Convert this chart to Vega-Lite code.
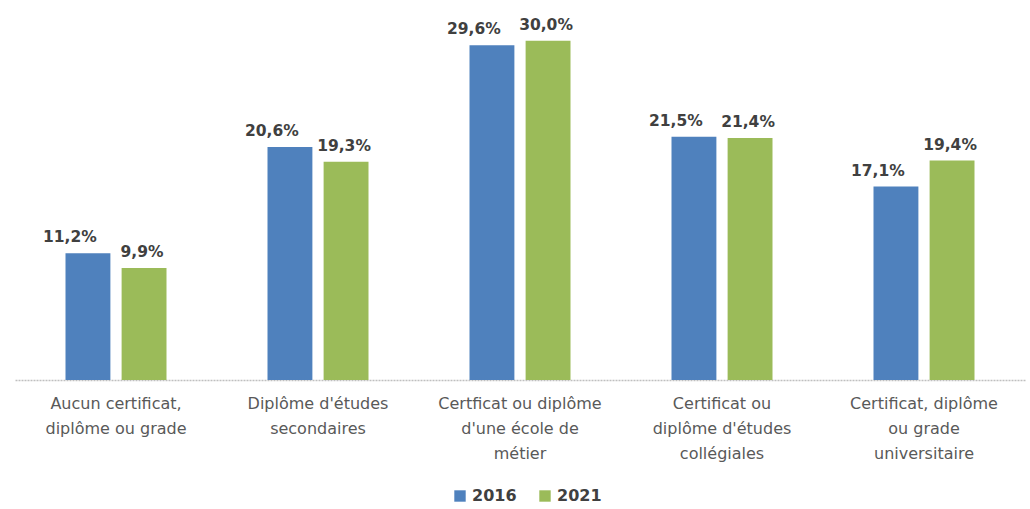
{
  "$schema": "https://vega.github.io/schema/vega-lite/v6.json",
  "width": 1010,
  "height": 380,
  "autosize": {"type": "none"},
  "padding": {"left": 15, "top": 0, "right": 5, "bottom": 129},
  "background": "white",
  "config": {
    "view": {"stroke": null},
    "font": "DejaVu Sans"
  },
  "data": {
    "values": [
      {"cat": "Aucun certificat,|diplôme ou grade", "annee": "2016", "val": 11.2, "lbl": "11,2%"},
      {"cat": "Aucun certificat,|diplôme ou grade", "annee": "2021", "val": 9.9, "lbl": "9,9%"},
      {"cat": "Diplôme d'études|secondaires", "annee": "2016", "val": 20.6, "lbl": "20,6%"},
      {"cat": "Diplôme d'études|secondaires", "annee": "2021", "val": 19.3, "lbl": "19,3%"},
      {"cat": "Certficat ou diplôme|d'une école de|métier", "annee": "2016", "val": 29.6, "lbl": "29,6%"},
      {"cat": "Certficat ou diplôme|d'une école de|métier", "annee": "2021", "val": 30.0, "lbl": "30,0%"},
      {"cat": "Certificat ou|diplôme d'études|collégiales", "annee": "2016", "val": 21.5, "lbl": "21,5%"},
      {"cat": "Certificat ou|diplôme d'études|collégiales", "annee": "2021", "val": 21.4, "lbl": "21,4%"},
      {"cat": "Certificat, diplôme|ou grade|universitaire", "annee": "2016", "val": 17.1, "lbl": "17,1%"},
      {"cat": "Certificat, diplôme|ou grade|universitaire", "annee": "2021", "val": 19.4, "lbl": "19,4%"}
    ]
  },
  "encoding": {
    "x": {
      "field": "cat", "type": "nominal", "sort": null,
      "scale": {"paddingInner": 0.5, "paddingOuter": 0.25},
      "axis": {
        "title": null,
        "labelExpr": "split(datum.value, '|')",
        "labelAngle": 0,
        "labelFontSize": 16,
        "labelColor": "#595959",
        "labelLineHeight": 25,
        "labelPadding": 15,
        "ticks": false,
        "domainColor": "#bfbfbf",
        "domainWidth": 1.5,
        "domainDash": [2, 1],
        "labelLimit": 300
      }
    },
    "xOffset": {"field": "annee", "type": "nominal", "scale": {"paddingInner": 0.2}},
    "y": {
      "field": "val", "type": "quantitative",
      "scale": {"domain": [0, 33.6], "nice": false},
      "axis": null
    }
  },
  "layer": [
    {
      "mark": {"type": "bar"},
      "encoding": {
        "color": {
          "field": "annee", "type": "nominal",
          "scale": {"domain": ["2016", "2021"], "range": ["#4F81BD", "#9BBB59"]},
          "legend": {
            "title": null,
            "orient": "none",
            "legendX": 437,
            "legendY": 488,
            "direction": "horizontal",
            "symbolType": "square",
            "symbolSize": 130,
            "symbolStrokeWidth": 0,
            "labelFontSize": 16,
            "labelFontWeight": "bold",
            "labelColor": "#404040",
            "columnPadding": 20
          }
        }
      }
    },
    {
      "transform": [{"filter": "datum.annee == '2016'"}],
      "mark": {"type": "text", "baseline": "bottom", "dy": -8, "dx": -18, "fontSize": 15.5, "fontWeight": "bold", "color": "#404040"},
      "encoding": {"text": {"field": "lbl"}}
    },
    {
      "transform": [{"filter": "datum.annee == '2021'"}],
      "mark": {"type": "text", "baseline": "bottom", "dy": -8, "dx": -2, "fontSize": 15.5, "fontWeight": "bold", "color": "#404040"},
      "encoding": {"text": {"field": "lbl"}}
    }
  ]
}
